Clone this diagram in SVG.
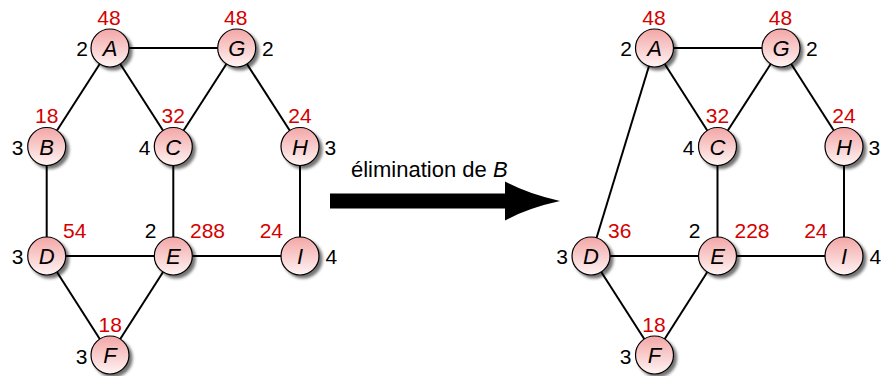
<svg xmlns="http://www.w3.org/2000/svg" width="881" height="376" viewBox="0 0 881 376">
  <defs>
    <linearGradient id="nodeFill" x1="0" y1="0" x2="0" y2="1">
      <stop offset="0" stop-color="#f3a6a6"/>
      <stop offset="1" stop-color="#fff4f4"/>
    </linearGradient>
    <filter id="shadow" x="-40%" y="-40%" width="190%" height="190%">
      <feDropShadow dx="3" dy="3" stdDeviation="1.6" flood-color="#000" flood-opacity="0.55"/>
    </filter>
    <circle id="disc" r="19" fill="url(#nodeFill)" stroke="#000" stroke-width="1.2" filter="url(#shadow)"/>
  </defs>
  <style>
    .edge { stroke: #000; stroke-width: 2; fill: none; }
    text { font-family: "Liberation Sans", Arial, sans-serif; font-size: 21px; }
    .name { font-style: italic; text-anchor: middle; fill: #000; font-size: 22px; }
    .deg { fill: #000; }
    .cost { fill: #d40000; }
    .mid { text-anchor: middle; }
    .end { text-anchor: end; }
    .caption { font-size: 22px; }
  </style>

  <!-- left graph: edges -->
  <g id="edges-left">
    <line class="edge" x1="110" y1="48" x2="236.7" y2="48"/>
    <line class="edge" x1="110" y1="48" x2="46.7" y2="146.5"/>
    <line class="edge" x1="110" y1="48" x2="173.3" y2="146.5"/>
    <line class="edge" x1="236.7" y1="48" x2="173.3" y2="146.5"/>
    <line class="edge" x1="236.7" y1="48" x2="300" y2="146.5"/>
    <line class="edge" x1="46.7" y1="146.5" x2="46.7" y2="256"/>
    <line class="edge" x1="173.3" y1="146.5" x2="173.3" y2="256"/>
    <line class="edge" x1="300" y1="146.5" x2="300" y2="256"/>
    <line class="edge" x1="46.7" y1="256" x2="300" y2="256"/>
    <line class="edge" x1="46.7" y1="256" x2="110" y2="355"/>
    <line class="edge" x1="173.3" y1="256" x2="110" y2="355"/>
  </g>

  <!-- left graph: nodes -->
  <g id="L-A"><use href="#disc" x="110" y="48"/><text class="name" x="110" y="56">A</text>
    <text class="cost mid" x="109" y="24.5">48</text><text class="deg end" x="88" y="56">2</text></g>
  <g id="L-G"><use href="#disc" x="236.7" y="48"/><text class="name" x="236.7" y="56">G</text>
    <text class="cost mid" x="235.7" y="24.5">48</text><text class="deg" x="262" y="56">2</text></g>
  <g id="L-B"><use href="#disc" x="46.7" y="146.5"/><text class="name" x="46.7" y="154.5">B</text>
    <text class="cost mid" x="46.7" y="123">18</text><text class="deg end" x="23.5" y="154.5">3</text></g>
  <g id="L-C"><use href="#disc" x="173.3" y="146.5"/><text class="name" x="173.3" y="154.5">C</text>
    <text class="cost mid" x="173.3" y="123">32</text><text class="deg end" x="150.5" y="154.5">4</text></g>
  <g id="L-H"><use href="#disc" x="300" y="146.5"/><text class="name" x="300" y="154.5">H</text>
    <text class="cost mid" x="300" y="123">24</text><text class="deg" x="324.5" y="154.5">3</text></g>
  <g id="L-D"><use href="#disc" x="46.7" y="256"/><text class="name" x="46.7" y="264">D</text>
    <text class="cost" x="63" y="238">54</text><text class="deg end" x="23.5" y="264">3</text></g>
  <g id="L-E"><use href="#disc" x="173.3" y="256"/><text class="name" x="173.3" y="264">E</text>
    <text class="cost" x="190" y="238">288</text><text class="deg end" x="156.5" y="238">2</text></g>
  <g id="L-I"><use href="#disc" x="300" y="256"/><text class="name" x="300" y="264">I</text>
    <text class="cost end" x="283" y="238">24</text><text class="deg" x="325.5" y="264">4</text></g>
  <g id="L-F"><use href="#disc" x="110" y="355"/><text class="name" x="110" y="363">F</text>
    <text class="cost mid" x="110.3" y="331.5">18</text><text class="deg end" x="87.5" y="364">3</text></g>

  <!-- transformation arrow -->
  <g id="step">
    <text class="caption" x="351" y="177">élimination de <tspan font-style="italic">B</tspan></text>
    <path d="M330 193.5 H505 V181.5 Q528 194 560 201 Q528 208 505 220.5 V208.5 H330 Z" fill="#000"/>
  </g>

  <!-- right graph: edges -->
  <g id="edges-right">
    <line class="edge" x1="654.5" y1="48" x2="781" y2="48"/>
    <line class="edge" x1="654.5" y1="48" x2="717.5" y2="146.5"/>
    <line class="edge" x1="781" y1="48" x2="717.5" y2="146.5"/>
    <line class="edge" x1="781" y1="48" x2="844" y2="146.5"/>
    <line class="edge" x1="654.5" y1="48" x2="591" y2="256"/>
    <line class="edge" x1="717.5" y1="146.5" x2="717.5" y2="256"/>
    <line class="edge" x1="844" y1="146.5" x2="844" y2="256"/>
    <line class="edge" x1="591" y1="256" x2="844" y2="256"/>
    <line class="edge" x1="591" y1="256" x2="654.5" y2="355"/>
    <line class="edge" x1="717.5" y1="256" x2="654.5" y2="355"/>
  </g>

  <!-- right graph: nodes -->
  <g id="R-A"><use href="#disc" x="654.5" y="48"/><text class="name" x="654.5" y="56">A</text>
    <text class="cost mid" x="654" y="24.5">48</text><text class="deg end" x="632" y="56">2</text></g>
  <g id="R-G"><use href="#disc" x="781" y="48"/><text class="name" x="781" y="56">G</text>
    <text class="cost mid" x="780.5" y="24.5">48</text><text class="deg" x="806" y="56">2</text></g>
  <g id="R-C"><use href="#disc" x="717.5" y="146.5"/><text class="name" x="717.5" y="154.5">C</text>
    <text class="cost mid" x="717.5" y="123">32</text><text class="deg end" x="694.5" y="154.5">4</text></g>
  <g id="R-H"><use href="#disc" x="844" y="146.5"/><text class="name" x="844" y="154.5">H</text>
    <text class="cost mid" x="844" y="123">24</text><text class="deg" x="868.5" y="154.5">3</text></g>
  <g id="R-D"><use href="#disc" x="591" y="256"/><text class="name" x="591" y="264">D</text>
    <text class="cost" x="608" y="238">36</text><text class="deg end" x="568" y="264">3</text></g>
  <g id="R-E"><use href="#disc" x="717.5" y="256"/><text class="name" x="717.5" y="264">E</text>
    <text class="cost" x="734.5" y="238">228</text><text class="deg end" x="700.5" y="238">2</text></g>
  <g id="R-I"><use href="#disc" x="844" y="256"/><text class="name" x="844" y="264">I</text>
    <text class="cost end" x="827.5" y="238">24</text><text class="deg" x="869.5" y="264">4</text></g>
  <g id="R-F"><use href="#disc" x="654.5" y="355"/><text class="name" x="654.5" y="363">F</text>
    <text class="cost mid" x="654" y="331.5">18</text><text class="deg end" x="631.5" y="364">3</text></g>
</svg>
